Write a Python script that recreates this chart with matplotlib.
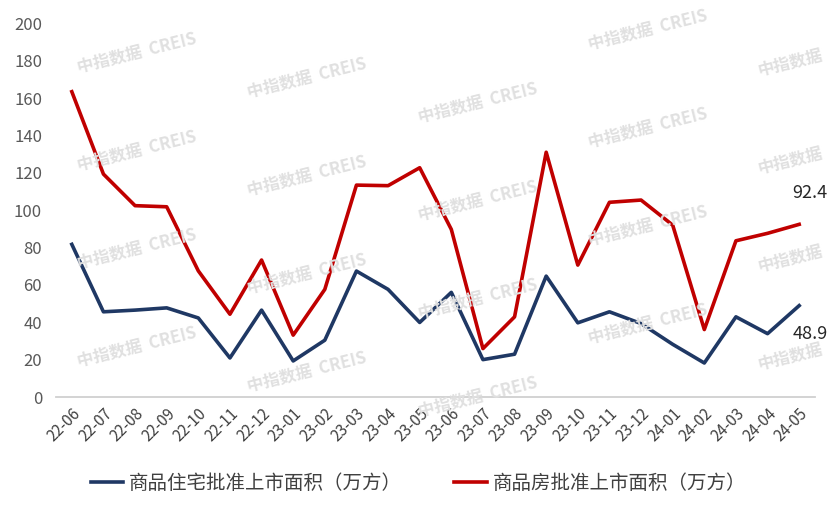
import matplotlib
matplotlib.use("Agg")
import matplotlib.pyplot as plt

plt.rcParams['font.family'] = ['Noto Sans CJK SC', 'DejaVu Sans']

months = ["22-06", "22-07", "22-08", "22-09", "22-10", "22-11", "22-12",
          "23-01", "23-02", "23-03", "23-04", "23-05", "23-06", "23-07",
          "23-08", "23-09", "23-10", "23-11", "23-12", "24-01", "24-02",
          "24-03", "24-04", "24-05"]
residential = [81.7, 45.6, 46.5, 47.7, 42.3, 20.9, 46.5, 19.3, 30.4, 67.4,
               57.6, 39.9, 56.0, 20.0, 22.9, 64.7, 39.7, 45.6, 39.3, 28.2,
               18.2, 42.9, 33.9, 48.9]
commercial = [163.4, 119.3, 102.4, 101.8, 67.5, 44.3, 73.3, 33.1, 57.6, 113.4,
              113.1, 122.7, 89.7, 25.9, 42.9, 131.0, 70.6, 104.2, 105.4, 92.0,
              36.1, 83.6, 87.6, 92.4]
res_label = "商品住宅批准上市面积（万方）"
com_label = "商品房批准上市面积（万方）"
yticks = [0, 20, 40, 60, 80, 100, 120, 140, 160, 180, 200]

BLUE = "#1F3864"
RED = "#C00000"
W, H = 837, 511

fig = plt.figure(figsize=(W / 100, H / 100), dpi=100)
ax = fig.add_axes([56 / W, 1 - 397 / H, (815 - 56) / W, (397 - 23.3) / H])

# watermark grid (pixel positions, top-left origin)
wm_cols = [(137, 53, "中指数据  CREIS"), (307, 78, "中指数据  CREIS"),
           (478, 103, "中指数据  CREIS"), (648, 30, "中指数据  CREIS"),
           (790, 63, "中指数据")]
for wx, wy0, txt in wm_cols:
    wy = wy0
    while wy < 400:
        fig.text(wx / W, 1 - wy / H, txt, fontsize=12, fontweight="bold",
                 color="#e0e0e0", rotation=14, ha="center", va="center", zorder=0)
        wy += 98

x = range(len(months))
ax.plot(x, residential, color=BLUE, lw=2.6, label=res_label, zorder=3)
ax.plot(x, commercial, color=RED, lw=2.6, label=com_label, zorder=3)

ax.annotate(f"{commercial[-1]:.1f}", (x[-1], commercial[-1]), xytext=(8, 16),
            textcoords="offset points", ha="center", va="bottom",
            fontsize=13, color="#262626")
ax.annotate(f"{residential[-1]:.1f}", (x[-1], residential[-1]), xytext=(8, -14),
            textcoords="offset points", ha="center", va="top",
            fontsize=13, color="#262626")

ax.set_xlim(-0.5, len(months) - 0.5)
ax.set_ylim(0, 200)
ax.set_yticks(yticks)
ax.set_yticklabels([str(v) for v in yticks], fontsize=12, color="#595959")
ax.set_xticks(list(x))
ax.set_xticklabels(months, rotation=45, ha="right", rotation_mode="anchor",
                   fontsize=11, color="#404040")
ax.tick_params(axis="both", length=0)
ax.tick_params(axis="y", pad=10)
ax.tick_params(axis="x", pad=6)
for s in ["top", "right", "left"]:
    ax.spines[s].set_visible(False)
ax.spines["bottom"].set_color("#d0d0d0")
ax.spines["bottom"].set_linewidth(1.3)
ax.patch.set_alpha(0)

fig.legend(loc="center", bbox_to_anchor=(0.5, 1 - 483 / H), ncol=2, frameon=False,
           fontsize=14, handlelength=1.65, columnspacing=2.7, handletextpad=0.3,
           labelcolor="#404040")

fig.savefig("out.png", dpi=100)
